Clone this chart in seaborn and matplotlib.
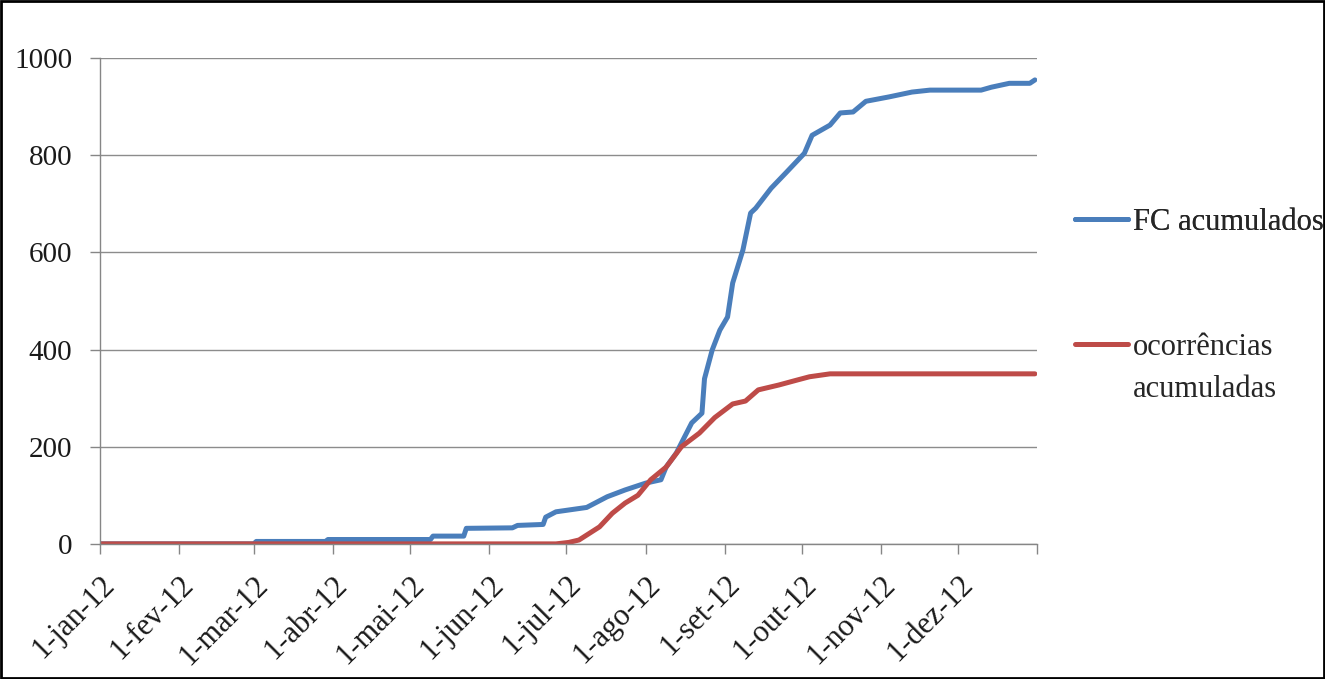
import pandas as pd
import matplotlib.pyplot as plt
from matplotlib.lines import Line2D
from matplotlib.patches import Rectangle
import seaborn as sns

# cumulative FC series
fc_dates = ['2012-01-01', '2012-03-01', '2012-03-02', '2012-03-29', '2012-03-30',
            '2012-05-09', '2012-05-10', '2012-05-22', '2012-05-23', '2012-06-10',
            '2012-06-12', '2012-06-22', '2012-06-23', '2012-06-27', '2012-07-09',
            '2012-07-17', '2012-07-24', '2012-08-01', '2012-08-07', '2012-08-09',
            '2012-08-13', '2012-08-19', '2012-08-23', '2012-08-24', '2012-08-27',
            '2012-08-30', '2012-09-02', '2012-09-04', '2012-09-08', '2012-09-11',
            '2012-09-13', '2012-09-19', '2012-09-25', '2012-10-02', '2012-10-05',
            '2012-10-12', '2012-10-16', '2012-10-21', '2012-10-26', '2012-11-04',
            '2012-11-13', '2012-11-20', '2012-12-10', '2012-12-14', '2012-12-21',
            '2012-12-29', '2012-12-31']
fc_values = [0, 0, 5, 5, 9,
             9, 16, 16, 32, 33,
             38, 40, 55, 66, 75,
             97, 111, 125, 132, 158,
             187, 249, 269, 340, 399,
             440, 467, 537, 605, 681,
             691, 732, 765, 804, 841,
             862, 887, 889, 911, 920,
             930, 934, 934, 940, 948,
             948, 955]

# cumulative occurrences series
oc_dates = ['2012-01-01', '2012-06-27', '2012-07-02', '2012-07-06', '2012-07-14',
            '2012-07-19', '2012-07-24', '2012-07-29', '2012-08-03', '2012-08-09',
            '2012-08-15', '2012-08-22', '2012-08-28', '2012-09-04', '2012-09-09',
            '2012-09-14', '2012-09-22', '2012-09-29', '2012-10-04', '2012-10-12',
            '2012-12-31']
oc_values = [0, 0, 3, 8, 35,
             63, 84, 100, 132, 158,
             200, 228, 260, 288, 294,
             317, 327, 337, 344, 350,
             350]

month_ticks = ['2012-01-01', '2012-02-01', '2012-03-01', '2012-04-01', '2012-05-01',
               '2012-06-01', '2012-07-01', '2012-08-01', '2012-09-01', '2012-10-01',
               '2012-11-01', '2012-12-01', '2013-01-01']
month_labels = ['1-jan-12', '1-fev-12', '1-mar-12', '1-abr-12', '1-mai-12', '1-jun-12',
                '1-jul-12', '1-ago-12', '1-set-12', '1-out-12', '1-nov-12', '1-dez-12', '']

fc = pd.DataFrame({'data': pd.to_datetime(fc_dates), 'valor': fc_values})
oc = pd.DataFrame({'data': pd.to_datetime(oc_dates), 'valor': oc_values})

sns.set_style('white')
plt.rcParams['font.family'] = ['Liberation Serif', 'DejaVu Serif']

fig = plt.figure(figsize=(13.25, 6.79), dpi=100)
ax = fig.add_axes([0.0755, 0.199, 0.7075, 0.7155])

blue = '#4A7EBB'
red = '#BE4B48'
fs = 21
sns.lineplot(data=fc, x='data', y='valor', ax=ax, color=blue, lw=3.6)
sns.lineplot(data=oc, x='data', y='valor', ax=ax, color=red, lw=3.6)

ax.set_xlim(pd.Timestamp('2012-01-01'), pd.Timestamp('2013-01-01'))
ax.set_ylim(0, 1000)
ax.set_yticks(range(0, 1001, 200))
ax.set_xticks(pd.to_datetime(month_ticks))
ax.set_xticklabels(month_labels, rotation=45, ha='right', va='top',
                   rotation_mode='anchor', fontsize=22)
ax.tick_params(axis='both', direction='out', length=7, width=1, color='#868686',
               labelcolor='#1a1a1a', left=True, bottom=True)
ax.tick_params(axis='y', labelsize=fs, pad=13)
ax.tick_params(axis='x', pad=12)
ax.set_xlabel('')
ax.set_ylabel('')

ax.grid(axis='y', color='#8c8c8c', lw=1)
ax.set_axisbelow(True)
for side in ['top', 'right']:
    ax.spines[side].set_visible(False)
for side in ['left', 'bottom']:
    ax.spines[side].set_color('#868686')
    ax.spines[side].set_linewidth(1)

# legend on the right, Excel style
lfs = 22
leg1 = fig.legend(handles=[Line2D([], [], color=blue, lw=3.6)], labels=['FC acumulados'],
                  loc='center left', bbox_to_anchor=(0.8113, 0.673), frameon=False,
                  fontsize=lfs, handlelength=1.75, handletextpad=0.15, borderaxespad=0,
                  borderpad=0)
leg2 = fig.legend(handles=[Line2D([], [], color=red, lw=3.6), Line2D([], [], color='none')],
                  labels=['ocorrências', 'acumuladas'],
                  loc='upper left', bbox_to_anchor=(0.8113, 0.510), frameon=False,
                  fontsize=lfs, handlelength=1.75, handletextpad=0.15, borderaxespad=0,
                  borderpad=0, labelspacing=0.45)
fig.add_artist(leg1)

fig.add_artist(Rectangle((0.001, 0.002), 0.998, 0.996, transform=fig.transFigure,
                         fill=False, edgecolor='black', lw=2))

fig.savefig('out.png', dpi=100)
